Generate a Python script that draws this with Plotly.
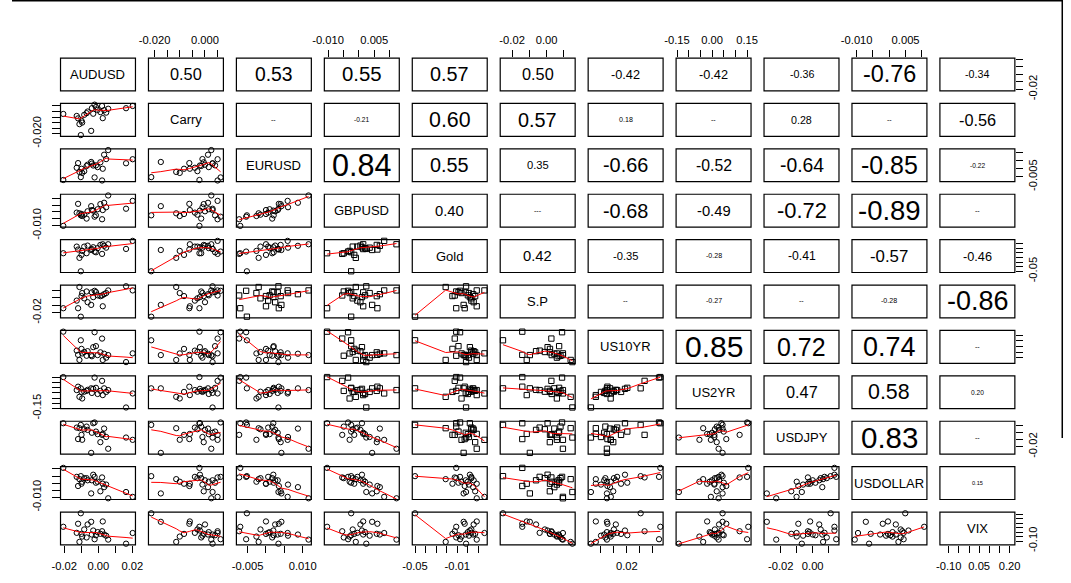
import numpy as np
import plotly.graph_objects as go

# ---------------- data ----------------
names = ["AUDUSD", "Carry", "EURUSD", "GBPUSD", "Gold", "S.P",
         "US10YR", "US2YR", "USDJPY", "USDOLLAR", "VIX"]

AUDUSD = [-0.0206, -0.0127, -0.0119, -0.0111, -0.0103, -0.0099, -0.0095, -0.0083,
          -0.0069, -0.0063, -0.0042, -0.0038, -0.0030, -0.0022, -0.0014, -0.0004,
          0.0012, 0.0022, 0.0026, 0.0034, 0.0046, 0.0058, 0.0163, 0.0202]
Carry = [-0.0022, -0.0040, -0.0062, -0.0114, -0.0213, -0.0083, -0.0100, -0.0030,
         -0.0015, 0.0000, -0.0175, 0.0030, -0.0020, 0.0062, 0.0040, 0.0015,
         -0.0005, 0.0050, -0.0060, 0.0012, -0.0010, 0.0025, 0.0030, 0.0050]
EURUSD = [-0.0070, 0.0006, 0.0035, -0.0020, -0.0052, 0.0000, -0.0026, -0.0015,
          0.0017, 0.0025, 0.0042, 0.0032, 0.0020, -0.0054, 0.0021, 0.0010,
          0.0040, -0.0073, 0.0000, 0.0087, 0.0060, 0.0116, 0.0034, 0.0059]
GBPUSD = [-0.0103, -0.0005, 0.0060, -0.0010, -0.0025, -0.0015, -0.0030, -0.0020,
          -0.0049, 0.0005, 0.0043, 0.0014, 0.0010, -0.0035, -0.0025, 0.0020,
          0.0058, -0.0054, 0.0014, 0.0068, 0.0035, 0.0122, 0.0024, 0.0082]
Gold = [-0.0110, 0.0033, -0.0030, -0.0210, -0.0500, -0.0146, -0.0060, 0.0033,
        -0.0110, 0.0055, -0.0040, -0.0020, 0.0019, -0.0074, -0.0089, 0.0000,
        0.0069, -0.0124, 0.0084, 0.0050, 0.0010, 0.0084, -0.0017, 0.0157]
SP = [-0.0141, -0.0040, -0.0141, 0.0140, -0.0253, 0.0020, 0.0060, -0.0010,
      0.0081, -0.0061, -0.0097, 0.0070, 0.0006, 0.0090, 0.0073, 0.0030,
      0.0019, 0.0028, -0.0115, 0.0045, 0.0060, 0.0095, 0.0150, 0.0095]
US10YR = [0.0720, 0.0050, -0.0100, -0.0280, 0.0415, 0.0111, -0.0050, 0.0000,
          -0.0132, 0.0030, -0.0108, -0.0150, 0.0172, 0.0700, 0.0208, -0.0108,
          -0.0010, 0.0476, -0.0280, -0.0060, -0.0200, -0.0108, -0.0356, -0.0047]
US2YR = [0.155, 0.028, 0.061, -0.038, 0.045, 0.010, -0.054, 0.012,
         0.020, 0.030, 0.045, 0.000, 0.040, 0.150, 0.050, -0.010,
         0.020, 0.118, -0.021, 0.045, 0.010, 0.028, -0.142, -0.005]
USDJPY = [0.0136, 0.0074, -0.0090, 0.0065, 0.0112, -0.0030, -0.0100, 0.0050,
          0.0088, 0.0041, -0.0287, 0.0000, 0.0136, 0.0147, 0.0017, -0.0020,
          -0.0134, -0.0030, -0.0016, 0.0060, -0.0060, -0.0228, -0.0068, -0.0101]
USDOLLAR = [0.0107, 0.0044, -0.0020, 0.0028, 0.0049, -0.0004, 0.0010, 0.0035,
            0.0035, 0.0020, -0.0072, 0.0020, 0.0059, 0.0044, 0.0003, 0.0010,
            -0.0057, 0.0040, -0.0004, -0.0028, -0.0010, -0.0106, -0.0062, -0.0096]
VIX = [0.060, -0.008, 0.094, -0.110, 0.212, -0.020, -0.050, 0.030,
       -0.060, 0.086, 0.116, -0.027, 0.018, -0.080, -0.035, 0.000,
       -0.019, 0.010, 0.120, -0.027, -0.040, -0.084, -0.130, -0.010]

series = [AUDUSD, Carry, EURUSD, GBPUSD, Gold, SP, US10YR, US2YR, USDJPY, USDOLLAR, VIX]

# tick values and tick labels (blank = tick without label)
tick_vals = [
    [-0.02, -0.01, 0.0, 0.01, 0.02],
    [-0.020, -0.015, -0.010, -0.005, 0.000, 0.005],
    [-0.005, 0.0, 0.005, 0.010],
    [-0.010, -0.005, 0.0, 0.005, 0.010],
    [-0.05, -0.04, -0.03, -0.02, -0.01, 0.0, 0.01],
    [-0.02, -0.01, 0.0, 0.01],
    [-0.04, -0.02, 0.0, 0.02, 0.04, 0.06],
    [-0.15, -0.10, -0.05, 0.0, 0.05, 0.10, 0.15],
    [-0.02, -0.01, 0.0, 0.01],
    [-0.010, -0.005, 0.0, 0.005, 0.010],
    [-0.10, -0.05, 0.0, 0.05, 0.10, 0.15, 0.20],
]
x_tick_text = [
    ["-0.02", "", "0.00", "", "0.02"],
    ["-0.020", "", "", "", "0.000", ""],
    ["-0.005", "", "", "0.010"],
    ["-0.010", "", "", "0.005", ""],
    ["-0.05", "", "", "", "-0.01", "", ""],
    ["-0.02", "", "0.00", ""],
    ["-0.04", "", "", "0.02", "", ""],
    ["-0.15", "", "", "0.00", "", "", "0.15"],
    ["-0.02", "", "0.00", ""],
    ["-0.010", "", "", "0.005", ""],
    ["-0.10", "", "", "0.05", "", "", "0.20"],
]
y_tick_text = [
    ["-0.02", "", "", "", ""],
    ["-0.020", "", "", "", "", ""],
    ["-0.005", "", "", ""],
    ["-0.010", "", "", "", ""],
    ["-0.05", "", "", "", "", "", ""],
    ["-0.02", "", "", ""],
    ["-0.04", "", "", "", "", ""],
    ["-0.15", "", "", "", "", "", ""],
    ["-0.02", "", "", ""],
    ["-0.010", "", "", "", ""],
    ["-0.10", "", "", "", "", "", ""],
]

# correlation labels shown in the upper panels
cor_text = {
    (0, 1): "0.50", (0, 2): "0.53", (0, 3): "0.55", (0, 4): "0.57", (0, 5): "0.50",
    (0, 6): "-0.42", (0, 7): "-0.42", (0, 8): "-0.36", (0, 9): "-0.76", (0, 10): "-0.34",
    (1, 2): "--", (1, 3): "-0.21", (1, 4): "0.60", (1, 5): "0.57", (1, 6): "0.18",
    (1, 7): "--", (1, 8): "0.28", (1, 9): "--", (1, 10): "-0.56",
    (2, 3): "0.84", (2, 4): "0.55", (2, 5): "0.35", (2, 6): "-0.66", (2, 7): "-0.52",
    (2, 8): "-0.64", (2, 9): "-0.85", (2, 10): "-0.22",
    (3, 4): "0.40", (3, 5): "---", (3, 6): "-0.68", (3, 7): "-0.49", (3, 8): "-0.72",
    (3, 9): "-0.89", (3, 10): "--",
    (4, 5): "0.42", (4, 6): "-0.35", (4, 7): "-0.28", (4, 8): "-0.41", (4, 9): "-0.57",
    (4, 10): "-0.46",
    (5, 6): "--", (5, 7): "-0.27", (5, 8): "--", (5, 9): "-0.28", (5, 10): "-0.86",
    (6, 7): "0.85", (6, 8): "0.72", (6, 9): "0.74", (6, 10): "--",
    (7, 8): "0.47", (7, 9): "0.58", (7, 10): "0.20",
    (8, 9): "0.83", (8, 10): "--",
    (9, 10): "0.15",
}

# ---------------- styles ----------------
cor_size = {
    (0, 1): 16, (0, 2): 19, (0, 3): 20, (0, 4): 19.5, (0, 5): 16, (0, 6): 12.5,
    (0, 7): 12.5, (0, 8): 10.5, (0, 9): 23, (0, 10): 10.5,
    (1, 2): 7, (1, 3): 6.5, (1, 4): 21, (1, 5): 19.5, (1, 6): 7, (1, 7): 7,
    (1, 8): 10.5, (1, 9): 7, (1, 10): 16,
    (2, 3): 30, (2, 4): 19.5, (2, 5): 11, (2, 6): 19.5, (2, 7): 15.5, (2, 8): 19,
    (2, 9): 24.5, (2, 10): 6.5,
    (3, 4): 14.5, (3, 5): 7, (3, 6): 19.5, (3, 7): 14.5, (3, 8): 21.5, (3, 9): 27,
    (3, 10): 7,
    (4, 5): 14.5, (4, 6): 11, (4, 7): 7, (4, 8): 12, (4, 9): 16.5, (4, 10): 12.5,
    (5, 6): 7, (5, 7): 7, (5, 8): 7, (5, 9): 7, (5, 10): 26.5,
    (6, 7): 29.5, (6, 8): 24.5, (6, 9): 26.5, (6, 10): 7,
    (7, 8): 16, (7, 9): 21, (7, 10): 6.5,
    (8, 9): 29, (8, 10): 7,
    (9, 10): 5.5,
}
square_panels = {(4, 3), (5, 2), (5, 3), (5, 4), (6, 3), (6, 4), (6, 5), (7, 3),
                 (7, 4), (7, 5), (7, 6), (8, 4), (8, 5), (8, 6), (9, 5)}

W, H = 1071, 583
N = len(names)
# panel grid, in pixels of the target picture
COL0, COLSTEP, CW = 58.3, 88.0, 75.0
ROW0, ROWSTEP, RH = 58.3, 45.6, 33.0
FONT = "Liberation Sans, Arial, sans-serif"

# the page snapshot is shrunk slightly and centred; compensate for that
S, OX, OY = 0.982, 9.75, 0.0


def PX(px):      # target-picture x pixel -> paper x
    return ((px - OX) / S) / W


def PY(py):      # target-picture y pixel -> paper y
    return 1 - ((py - OY) / S) / H


def sz(v):       # target-picture size -> figure size
    return v / S


def lowess(x, y, f=2 / 3, iters=3):
    x = np.asarray(x, float)
    y = np.asarray(y, float)
    o = np.argsort(x, kind="mergesort")
    x, y = x[o], y[o]
    n = len(x)
    r = max(min(int(round(f * n)), n), 2)
    rob = np.ones(n)
    fit = np.zeros(n)
    for it in range(iters + 1):
        for i in range(n):
            d = np.abs(x - x[i])
            h = max(np.sort(d)[r - 1], 1e-12)
            u = np.clip(d / h, 0, 1)
            w = (1 - u ** 3) ** 3 * rob
            w[d > 0.999 * h] = 0
            sw = w.sum()
            if sw <= 0:
                fit[i] = y[i]
                continue
            xm = (w * x).sum() / sw
            ym = (w * y).sum() / sw
            sxx = (w * (x - xm) ** 2).sum()
            b = (w * (x - xm) * (y - ym)).sum() / sxx if sxx > 0 else 0.0
            fit[i] = ym + b * (x[i] - xm)
        if it == iters:
            break
        res = y - fit
        s = np.median(np.abs(res))
        if s <= 0:
            break
        uu = np.clip(res / (6 * s), -1, 1)
        rob = (1 - uu ** 2) ** 2
    return x, fit


def ax_name(k, letter):
    return letter if k == 0 else f"{letter}{k + 1}"


def prange(v):
    v = np.asarray(v, float)
    lo, hi = v.min(), v.max()
    pad = 0.04 * (hi - lo)
    return [lo - pad, hi + pad]


fig = go.Figure()
shapes = []
annotations = []
used = set()

for i in range(N):
    for j in range(N):
        x0 = COL0 + COLSTEP * j
        y0 = ROW0 + ROWSTEP * i
        shapes.append(dict(type="rect", xref="paper", yref="paper",
                           x0=PX(x0), x1=PX(x0 + CW), y0=PY(y0 + RH), y1=PY(y0),
                           line=dict(color="black", width=1.2)))
        cx = PX(x0 + CW / 2)
        cy = PY(y0 + RH / 2)
        if i == j:
            annotations.append(dict(text=names[i], x=cx, y=cy, xref="paper", yref="paper",
                                    showarrow=False, xanchor="center", yanchor="middle",
                                    font=dict(family=FONT, size=sz(12.8), color="black")))
        elif i < j:
            annotations.append(dict(text=cor_text[(i, j)], x=cx, y=cy, xref="paper",
                                    yref="paper", showarrow=False, xanchor="center",
                                    yanchor="middle",
                                    font=dict(family=FONT, size=sz(cor_size[(i, j)]),
                                              color="black")))
        else:
            xa = ax_name(j, "x")
            ya = ax_name(i, "y")
            used.add((xa, ya))
            sym = "square-open" if (i, j) in square_panels else "circle-open"
            fig.add_trace(go.Scatter(
                x=series[j], y=series[i], mode="markers", xaxis=xa, yaxis=ya,
                marker=dict(symbol=sym, size=sz(5.2), color="black",
                            line=dict(color="black", width=1)),
                hoverinfo="skip", showlegend=False, cliponaxis=False))
            lx, ly = lowess(series[j], series[i])
            fig.add_trace(go.Scatter(
                x=lx, y=ly, mode="lines", xaxis=xa, yaxis=ya,
                line=dict(color="red", width=1), hoverinfo="skip", showlegend=False))

layout = dict(width=W, height=H, margin=dict(l=0, r=0, t=0, b=0),
              paper_bgcolor="white", plot_bgcolor="rgba(0,0,0,0)",
              showlegend=False, shapes=shapes, annotations=annotations)

tickfont = dict(family=FONT, size=sz(11), color="black")
for k in range(N):
    xl = COL0 + COLSTEP * k
    yt = ROW0 + ROWSTEP * k
    xa = dict(domain=[PX(xl), PX(xl + CW)], range=prange(series[k]),
              tickmode="array", tickvals=tick_vals[k], ticktext=x_tick_text[k],
              showgrid=False, zeroline=False, showline=False, ticks="outside",
              ticklen=sz(7), tickwidth=1, tickcolor="black", tickfont=tickfont,
              fixedrange=True, tickangle=0)
    if k % 2 == 1:
        xa.update(side="top", anchor="y", ticklabelstandoff=1)
    else:
        xa.update(side="bottom", anchor="y11", ticklabelstandoff=4)
    ya = dict(domain=[PY(yt + RH), PY(yt)], range=prange(series[k]),
              tickmode="array", tickvals=tick_vals[k], ticktext=y_tick_text[k],
              showgrid=False, zeroline=False, showline=False, ticks="outside",
              ticklen=sz(7), tickwidth=1, tickcolor="black", tickfont=tickfont,
              fixedrange=True, tickangle=-90)
    if k % 2 == 1:
        ya.update(side="left", anchor="x", ticklabelstandoff=7)
    else:
        ya.update(side="right", anchor="x11", ticklabelstandoff=1)
    layout["xaxis" if k == 0 else f"xaxis{k + 1}"] = xa
    layout["yaxis" if k == 0 else f"yaxis{k + 1}"] = ya

# make sure each axis has a subplot with its anchor (so the ticks sit on the outer edge)
for k in range(N):
    pairs = [(ax_name(k, "x"), "y" if k % 2 == 1 else "y11"),
             ("x" if k % 2 == 1 else "x11", ax_name(k, "y"))]
    for xa, ya in pairs:
        if (xa, ya) not in used:
            used.add((xa, ya))
            fig.add_trace(go.Scatter(x=[None], y=[None], mode="markers", xaxis=xa,
                                     yaxis=ya, hoverinfo="skip", showlegend=False))

# window frame visible around the original picture (top and right edges)
shapes.append(dict(type="line", xref="paper", yref="paper", x0=0, x1=1,
                   y0=PY(0.8), y1=PY(0.8), line=dict(color="black", width=1.5)))
shapes.append(dict(type="line", xref="paper", yref="paper",
                   x0=min(PX(1062.5), 0.9993), x1=min(PX(1062.5), 0.9993),
                   y0=PY(0), y1=PY(440), line=dict(color="black", width=1.5)))

fig.update_layout(**layout)
fig.write_html("out.html")
